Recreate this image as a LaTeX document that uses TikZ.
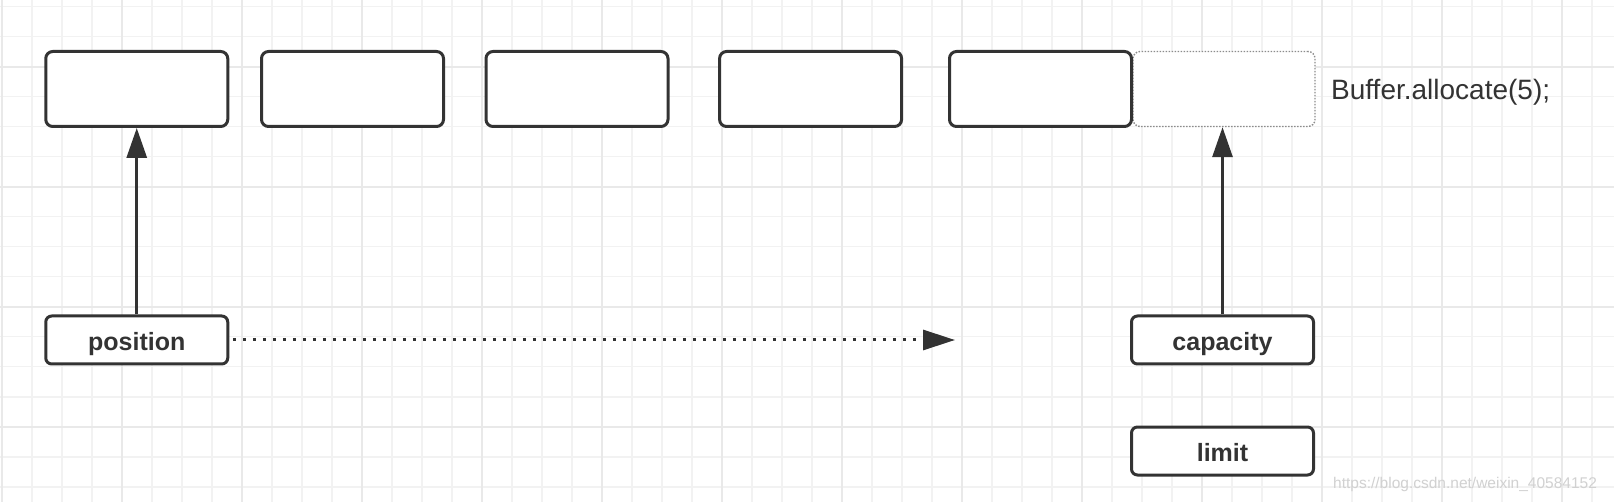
\documentclass[tikz,border=0pt]{standalone}
\usepackage{fontspec}
\setmainfont{Liberation Sans}
\usetikzlibrary{arrows.meta}
\definecolor{ink}{HTML}{333333}
\definecolor{gridminor}{HTML}{F2F2F2}
\definecolor{gridmajor}{HTML}{E9E9E9}
\tikzset{
  cell/.style={draw=ink, line width=3pt, rounded corners=7pt, fill=white,
    minimum width=182pt, minimum height=75pt, inner sep=0pt},
  ghostcell/.style={draw=black!45, line width=1.4pt, dash pattern=on 1.5pt off 1.5pt,
    rounded corners=7pt, fill=white, minimum width=182pt, minimum height=75pt, inner sep=0pt},
  label/.style={draw=ink, line width=3pt, rounded corners=6pt, fill=white,
    minimum width=182pt, minimum height=48pt, inner sep=0pt, text=ink,
    text height=24pt, text depth=3pt,
    font=\fontsize{25pt}{30pt}\selectfont\bfseries},
  pointer/.style={draw=ink, line width=3pt, -{Triangle[length=30pt,width=20pt]}},
  moveptr/.style={draw=ink, line width=3pt, dash pattern=on 3pt off 7pt,
    -{Triangle[length=32pt,width=20pt]}},
  gminor/.style={draw=gridminor, line width=1.6pt},
  gmajor/.style={draw=gridmajor, line width=2pt},
}
\begin{document}
\begin{tikzpicture}[x=1pt,y=-1pt]
\useasboundingbox (0,0) rectangle (1614,502);
\fill[white] (0,0) rectangle (1614,502);
% grid
\foreach \i in {0,...,53} {\draw[gminor] ({1.7+30*\i},0) -- ({1.7+30*\i},502);}
\foreach \i in {0,...,16} {\draw[gminor] (0,{6.7+30*\i}) -- (1614,{6.7+30*\i});}
\foreach \i in {0,...,13} {\draw[gmajor] ({1.7+120*\i},0) -- ({1.7+120*\i},502);}
\foreach \i in {0,...,3} {\draw[gmajor] (0,{66.7+120*\i}) -- (1614,{66.7+120*\i});}
% buffer cells
\node[cell] (c1) at (136.75,89) {};
\node[cell] (c2) at (352.5,89) {};
\node[cell] (c3) at (577,89) {};
\node[cell] (c4) at (810.6,89) {};
\node[ghostcell] (c6) at (1224,89) {};
\node[cell] (c5) at (1040.5,89) {};
\node[anchor=base west, text=ink, font=\fontsize{28pt}{32pt}\selectfont, inner sep=0pt]
  (alloc) at (1331,100) {Buffer.allocate(5);};
% labels
\node[label] (pos) at (136.75,340) {position};
\node[label] (cap) at (1222.5,340) {capacity};
\node[label] (lim) at (1222.5,451) {limit};
\coordinate (posstart) at ([xshift=4pt]pos.east);
\coordinate (posend) at (955,340);
% connectors
\draw[pointer] (pos.north) -- (c1.south);
\draw[pointer] (cap.north) -- (cap.north |- c6.south);
\draw[moveptr] (posstart) -- (posend);
% watermark
\node[anchor=base west, text=black!18, font=\fontsize{15.5pt}{18pt}\selectfont, inner sep=0pt]
  (wm) at (1333,488) {https://blog.csdn.net/weixin\_40584152};
\end{tikzpicture}
\end{document}
